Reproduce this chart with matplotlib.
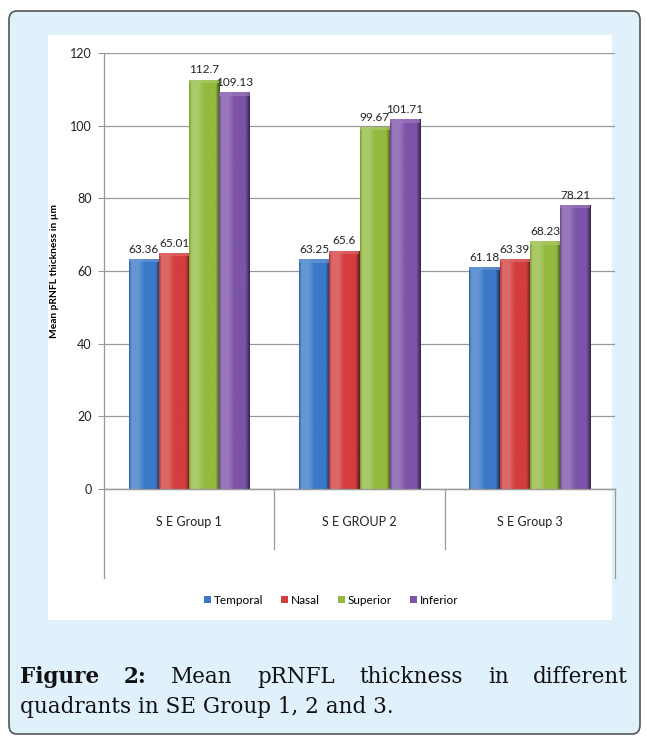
import matplotlib
matplotlib.use("Agg")
import matplotlib.pyplot as plt
import numpy as np
from matplotlib.patches import FancyBboxPatch, Rectangle
from matplotlib.lines import Line2D
import matplotlib.colors as mcolors

groups = ["S E Group 1", "S E GROUP 2", "S E Group 3"]
series = ["Temporal", "Nasal", "Superior", "Inferior"]
temporal = [63.36, 63.25, 61.18]
nasal = [65.01, 65.6, 63.39]
superior = [112.7, 99.67, 68.23]
inferior = [109.13, 101.71, 78.21]
values = [temporal, nasal, superior, inferior]
labels_txt = [["63.36", "63.25", "61.18"], ["65.01", "65.6", "63.39"],
              ["112.7", "99.67", "68.23"], ["109.13", "101.71", "78.21"]]
yticks = [0, 20, 40, 60, 80, 100, 120]
colors = ["#3b78c8", "#d33d3d", "#93ba3e", "#7c53a8"]

W, H = 646, 738
fig = plt.figure(figsize=(W / 100, H / 100), dpi=100)
fig.patch.set_facecolor("white")

def fx(px):
    return px / W
def fy(py):
    return 1 - py / H

# outer light blue rounded box
box = FancyBboxPatch((fx(9), fy(734)), fx(631), (734 - 11) / H,
                     boxstyle="round,pad=0,rounding_size=0.012",
                     transform=fig.transFigure, facecolor="#e0f1fc",
                     edgecolor="#555555", linewidth=1.2, zorder=-2)
fig.patches.append(box)
# white chart panel
panel = Rectangle((fx(48), fy(620)), fx(612 - 48), (620 - 35) / H,
                  transform=fig.transFigure, facecolor="white",
                  edgecolor="none", zorder=-1)
fig.patches.append(panel)

ax_l, ax_r, ax_t, ax_b = 104, 615, 53, 489
ax = fig.add_axes([fx(ax_l), fy(ax_b), fx(ax_r - ax_l), (ax_b - ax_t) / H])
ax.set_facecolor("none")
ax.set_xlim(0, 3)
ax.set_ylim(0, 120)
ax.set_yticks(yticks)
ax.set_yticklabels([str(t) for t in yticks], fontsize=9, family="Lato", color="#222222")
ax.tick_params(axis="y", length=4, color="#999999", width=0.8, pad=5)
ax.set_xticks([])
for s in ["top", "right"]:
    ax.spines[s].set_visible(False)
for s in ["left", "bottom"]:
    ax.spines[s].set_color("#999999")
    ax.spines[s].set_linewidth(0.9)
ax.yaxis.grid(True, color="#999999", linewidth=0.9)
ax.set_axisbelow(True)

ax.set_ylabel("Mean pRNFL thickness in µm", fontsize=7.3, fontweight="bold",
              family="Lato", labelpad=8)

bw = 0.178
x = np.arange(3) + 0.5
offsets = (np.arange(4) - 1.5) * bw

for i, (vals, col) in enumerate(zip(values, colors)):
    bars = ax.bar(x + offsets[i], vals, width=bw, color=col, zorder=2,
                  edgecolor="none")
    base = np.array(mcolors.to_rgb(col))
    light = np.clip(base + (1 - base) * 0.22, 0, 1)
    dark = base * 0.45
    n = 64
    t = np.linspace(0, 1, n)
    grad = np.zeros((1, n, 3))
    for k in range(n):
        tt = t[k]
        if tt < 0.08:
            c = base * 0.85 + (light - base * 0.85) * tt / 0.08
        elif tt < 0.3:
            c = light
        elif tt < 0.5:
            c = light + (base - light) * (tt - 0.3) / 0.2
        elif tt < 0.86:
            c = base
        else:
            c = base + (dark - base) * (tt - 0.86) / 0.14
        grad[0, k] = c
    for b, lt in zip(bars, labels_txt[i]):
        bx, by = b.get_x(), b.get_y()
        bwid, bh = b.get_width(), b.get_height()
        im = ax.imshow(grad, extent=(bx, bx + bwid, by, by + bh), aspect="auto",
                       zorder=2.5, interpolation="bilinear")
        im.set_clip_path(b)
        ax.add_patch(Rectangle((bx, by + bh - 1.0), bwid, 1.0, facecolor=light,
                               edgecolor="none", alpha=0.7, zorder=2.7))
        ax.annotate(lt, (bx + bwid / 2, by + bh), xytext=(0, 3),
                    textcoords="offset points", ha="center", va="bottom",
                    fontsize=8.5, family="Lato", color="#222222", zorder=3)

ax.set_xlim(0, 3)
ax.set_ylim(0, 120)

# category axis box extension
pxh = (ax_b - ax_t)
for xx, bottom in [(0, 578), (1, 549), (2, 549), (3, 578)]:
    ax.add_line(Line2D([xx, xx], [0, -(bottom - ax_b) / pxh * 120], color="#999999",
                       linewidth=0.9, clip_on=False, zorder=1))
ax.plot([0, 3], [0, 0], color="#999999", linewidth=0.9, clip_on=False, zorder=1)
for k, g in enumerate(groups):
    ax.text(k + 0.5, -(522 - ax_b) / pxh * 120, g, ha="center", va="center",
            fontsize=9, family="Lato", color="#222222")

# legend
handles = [Rectangle((0, 0), 1, 1, facecolor=c, edgecolor="none") for c in colors]
fig.legend(handles, series, loc="center", bbox_to_anchor=(fx(331), fy(600)),
           ncol=4, frameon=False, handlelength=0.6, handleheight=0.6,
           handletextpad=0.25, columnspacing=1.5, prop={"family": "Lato", "size": 8.5})

# caption
fig.canvas.draw()
renderer = fig.canvas.get_renderer()
cap_font = dict(family="DejaVu Serif", fontsize=15.5, color="#111111")
words = [("Figure", "bold"), ("2:", "bold"), ("Mean", "normal"), ("pRNFL", "normal"),
         ("thickness", "normal"), ("in", "normal"), ("different", "normal")]
texts = []
widths = []
for w, wt in words:
    tx = fig.text(0, fy(677), w, fontweight=wt, va="center", ha="left", **cap_font)
    texts.append(tx)
    widths.append(tx.get_window_extent(renderer).width)
x0, x1 = 20, 628
gap = (x1 - x0 - sum(widths)) / (len(words) - 1)
cur = x0
for tx, wd in zip(texts, widths):
    tx.set_x(fx(cur))
    cur += wd + gap
fig.text(fx(20), fy(707), "quadrants in SE Group 1, 2 and 3.", va="center",
         ha="left", **cap_font)

fig.savefig("out.png", dpi=100)
